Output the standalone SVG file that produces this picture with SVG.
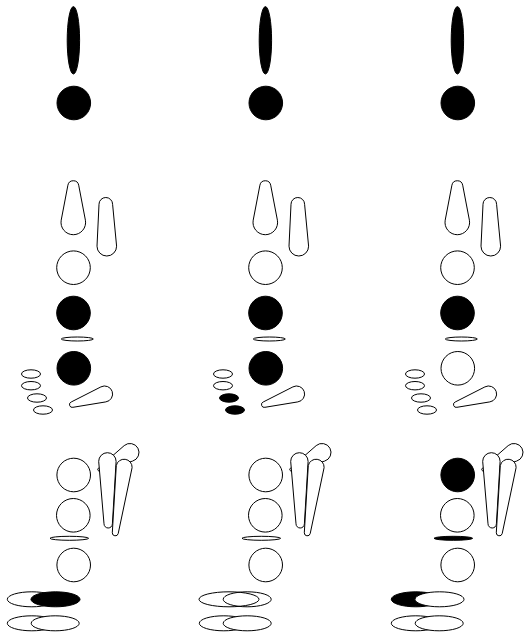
<svg xmlns="http://www.w3.org/2000/svg" xmlns:xlink="http://www.w3.org/1999/xlink" width="529" height="637" viewBox="0 0 529 637">
<style>
.o{fill:#fff;stroke:#000;stroke-width:1}
.b{fill:#000;stroke:#000;stroke-width:1}
.n{fill:none;stroke:#000;stroke-width:1}
</style>
<defs>
<path id="p1" class="o" d="M67.9 185.2A5.5 5.5 0 0 1 78.7 185.2L85.4 220.2A12.3 12.3 0 1 1 61.2 220.2Z"/>
<path id="p2" class="o" d="M99 204.3A6.8 6.8 0 0 1 112.6 204.3L116.6 246.2A9.8 9.8 0 1 1 97 246.2Z"/>
<path id="p3" class="o" d="M71.2 402L100.9 386.9A8 8 0 1 1 105.8 401.9L72.95 407.3A2.8 2.8 0 0 1 71.2 402Z"/>
<path id="k1" class="o" d="M98.4 468.2L124.2 445.6A9 9 0 1 1 132.6 461.1L100.1 470.9A1.6 1.6 0 0 1 98.4 468.2Z"/>
<path id="k2" class="o" d="M98.7 461.4A8.7 8.7 0 0 1 116.1 461.4L112.4 523.8A4.2 4.2 0 0 1 104 523.8Z"/>
<path id="k3" class="o" d="M116.3 465.5A8 8 0 0 1 132.1 467.6L118.2 533.6A3 3 0 0 1 112.3 532.8Z"/>
<g id="top">
<ellipse class="b" cx="73.4" cy="40.3" rx="6.2" ry="33.7"/>
<circle class="b" cx="73.8" cy="103" r="16.8"/>
</g>
<g id="keys">
<use href="#p1"/><use href="#p2"/><use href="#p3"/>
<circle class="o" cx="73.5" cy="267.7" r="16.8"/>
<circle class="b" cx="73.5" cy="313" r="16.8"/>
<ellipse class="o" cx="77.3" cy="339" rx="16" ry="2"/>
<use href="#k1"/><use href="#k2"/><use href="#k3"/>
<circle class="o" cx="73.3" cy="515.3" r="16.8"/>
<circle class="o" cx="73.7" cy="565" r="16.8"/>
<ellipse class="o" cx="31.8" cy="623.3" rx="24.5" ry="7.5"/>
<ellipse class="o" cx="55.2" cy="623.3" rx="24" ry="7.5"/>
</g>
</defs>
<g id="column-1">
<use href="#top"/><use href="#keys"/>
<circle class="b" cx="73.8" cy="368.3" r="16.8"/>
<ellipse class="o" cx="31" cy="374" rx="9.5" ry="4.2"/>
<ellipse class="o" cx="31" cy="385.7" rx="9.5" ry="4.2"/>
<ellipse class="o" cx="37" cy="398" rx="9.5" ry="4.2"/>
<ellipse class="o" cx="43" cy="410" rx="9.5" ry="4.2"/>
<circle class="o" cx="73.7" cy="475" r="16.8"/>
<ellipse class="o" cx="69.3" cy="538.3" rx="19.3" ry="2"/>
<ellipse class="o" cx="31.8" cy="599.3" rx="24.5" ry="7.5"/>
<ellipse class="b" cx="55.5" cy="599.3" rx="24.5" ry="7.5"/>
</g>
<g id="column-2" transform="translate(192 0)">
<use href="#top"/><use href="#keys"/>
<circle class="b" cx="73.8" cy="368.3" r="16.8"/>
<ellipse class="o" cx="31" cy="374" rx="9.5" ry="4.2"/>
<ellipse class="o" cx="31" cy="385.7" rx="9.5" ry="4.2"/>
<ellipse class="b" cx="37" cy="398" rx="9.5" ry="4.2"/>
<ellipse class="b" cx="43" cy="410" rx="9.5" ry="4.2"/>
<circle class="o" cx="73.7" cy="475" r="16.8"/>
<ellipse class="o" cx="69.3" cy="538.3" rx="19.3" ry="2"/>
<ellipse class="n" cx="55.2" cy="599.3" rx="24" ry="7.5"/>
<ellipse class="n" cx="37" cy="599.3" rx="30" ry="7.5"/>
</g>
<g id="column-3" transform="translate(384 0)">
<use href="#top"/><use href="#keys"/>
<circle class="o" cx="73.8" cy="368.3" r="16.8"/>
<ellipse class="o" cx="31" cy="374" rx="9.5" ry="4.2"/>
<ellipse class="o" cx="31" cy="385.7" rx="9.5" ry="4.2"/>
<ellipse class="o" cx="37" cy="398" rx="9.5" ry="4.2"/>
<ellipse class="o" cx="43" cy="410" rx="9.5" ry="4.2"/>
<circle class="b" cx="73.7" cy="475" r="16.8"/>
<ellipse class="b" cx="69.3" cy="538.3" rx="19.3" ry="2"/>
<ellipse class="b" cx="31.8" cy="599.3" rx="24.5" ry="7.5"/>
<ellipse class="o" cx="55.5" cy="599.3" rx="24.5" ry="7.5"/>
</g>
</svg>
